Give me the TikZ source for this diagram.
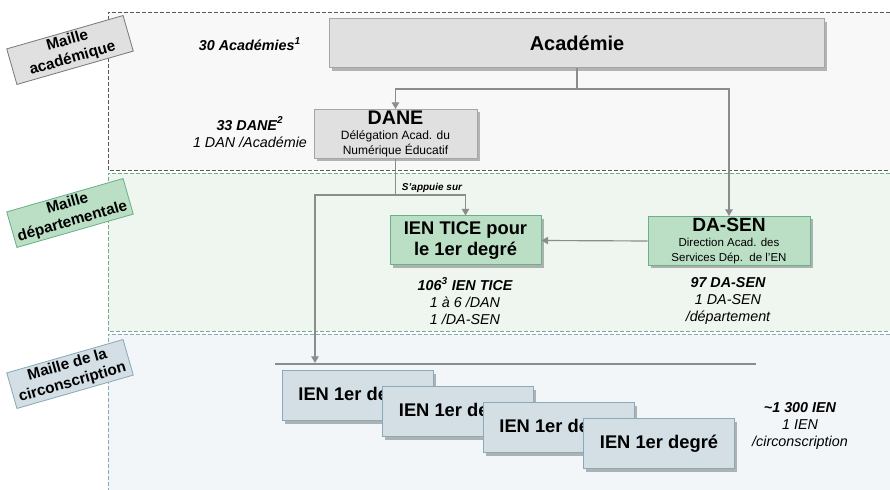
\documentclass[tikz,border=0pt]{standalone}
\usepackage{fontspec}
\setmainfont{Liberation Sans}
\definecolor{BandGray}{HTML}{F8F8F8}
\definecolor{BandGreen}{HTML}{EFF6F0}
\definecolor{BandBlue}{HTML}{F2F6F9}
\definecolor{LineGray}{HTML}{595959}
\definecolor{LineGreen}{HTML}{6BB08A}
\definecolor{LineBlue}{HTML}{8AAAB8}
\definecolor{BoxGray}{HTML}{E0E0E0}
\definecolor{BoxGreen}{HTML}{BBDFC5}
\definecolor{BoxBlue}{HTML}{D3DFE5}
\definecolor{ConnGray}{HTML}{8C8C8C}
\usetikzlibrary{positioning, arrows.meta, shadows}

\begin{document}
\begin{tikzpicture}[x=0.6pt, y=-0.6pt, >={Triangle[width=4.5pt,length=4pt]},
    conn/.style={draw=ConnGray, line width=0.7pt},
    band/.style={line width=0.5pt, dash pattern=on 2.4pt off 1.2pt},
    box/.style={rectangle, inner sep=0pt, align=center, line width=0.6pt,
      drop shadow={shadow xshift=1.6pt, shadow yshift=-1.6pt, opacity=0.4, fill=black!70}},
    maille/.style={rectangle, rotate=16, inner sep=0pt, align=center, line width=0.5pt,
      minimum width=72.6pt, minimum height=22.2pt, font=\fontsize{9.2}{11}\selectfont\bfseries},
    stat/.style={align=center, font=\fontsize{8.6}{10.2}\selectfont\itshape},
    ien/.style={box, fill=BoxBlue, draw=LineBlue, minimum width=90.6pt, minimum height=30pt,
      font=\fontsize{11}{13}\selectfont\bfseries}]
    \useasboundingbox (0,0) rectangle (890,490);
    % Bands
    \fill[BandGray] (108,12) rectangle (890,170);
    \fill[BandGreen] (108,173) rectangle (890,331);
    \fill[BandBlue] (108,334) rectangle (890,490);
    \draw[band, LineGray] (890,12) -- (108,12) -- (108,170) -- (890,170);
    \draw[band, LineGreen] (890,173) -- (108,173) -- (108,331) -- (890,331);
    \draw[band, LineBlue] (890,334) -- (108,334) -- (108,490);
    % Band labels
    \node[maille, fill=BoxGray, draw=LineGray!80] (mAcad) at (70,50) {Maille\\académique};
    \node[maille, fill=BoxGreen, draw=LineGreen] (mDep) at (70,213) {Maille\\départementale};
    \node[maille, fill=BoxBlue, draw=LineBlue] (mCirc) at (70,374) {Maille de la\\circonscription};
    % Academic level
    \node[box, fill=BoxGray, draw=black!35, minimum width=297pt, minimum height=29.4pt,
      font=\fontsize{12}{14}\selectfont\bfseries] (acad) at (577,43.5) {Académie};
    \node[box, fill=BoxGray, draw=black!35, minimum width=97.8pt, minimum height=29.4pt,
      font=\fontsize{7.2}{9}\selectfont] (dane) at (395.5,134)
      {{\fontsize{11.8}{12}\selectfont\bfseries DANE}\\
       Délégation Acad. du\\Numérique Éducatif};
    \node[stat, font=\fontsize{8.6}{10.2}\selectfont\bfseries\itshape] (sAcad) at (250,44) {30 Académies\textsuperscript{1}};
    \node[stat] (sDane) at (250,132) {\textbf{33 DANE\textsuperscript{2}}\\1 DAN /Académie};
    % Departmental level
    \node[box, fill=BoxGreen, draw=LineGreen, minimum width=90.6pt, minimum height=29.4pt,
      font=\fontsize{11}{13}\selectfont\bfseries] (tice) at (465.5,240.5) {IEN TICE pour\\le 1er degré};
    \node[box, fill=BoxGreen, draw=LineGreen, minimum width=97.2pt, minimum height=29.4pt,
      font=\fontsize{6.9}{8.8}\selectfont] (dasen) at (729,241)
      {{\fontsize{11.5}{12}\selectfont\bfseries DA-SEN}\\
       Direction Acad. des\\Services Dép.\ \ de l'EN};
    \node[stat] (sTice) at (465,301) {\textbf{106\textsuperscript{3} IEN TICE}\\1 à 6 /DAN\\1 /DA-SEN};
    \node[stat] (sDasen) at (728,301) {\textbf{97 DA-SEN}\\1 DA-SEN\\/département};
    % Circonscription level
    \node[ien] (ien1) at (357.5,396) {IEN 1er degré};
    \node[ien] (ien2) at (458,412) {IEN 1er degré};
    \node[ien] (ien3) at (558.5,428) {IEN 1er degré};
    \node[ien] (ien4) at (659,444) {IEN 1er degré};
    \node[stat] (sIen) at (800,426) {\textbf{\textasciitilde1 300 IEN}\\1 IEN\\/circonscription};
    % Connectors
    \coordinate (jA) at (577,89);
    \coordinate (jD) at (395.5,195);
    \coordinate (barL) at (275,364);
    \coordinate (barR) at (756,364);
    \coordinate (jBar) at (315,363);
    \draw[conn, ->] (acad.south) -- (jA) -| (dane.north);
    \draw[conn, ->] (jA) -| (dasen.north);
    \draw[conn, ->] (dane.south) -- (jD) -| (tice.north);
    \draw[conn, ->] (jD) -| (jBar);
    \draw[conn, ->] (dasen.west) -- (tice.east);
    \draw[conn] (barL) -- (barR);
    \node[font=\fontsize{6}{7}\selectfont\bfseries\itshape] (lAppui) at (432,188) {S'appuie sur};
\end{tikzpicture}
\end{document}
